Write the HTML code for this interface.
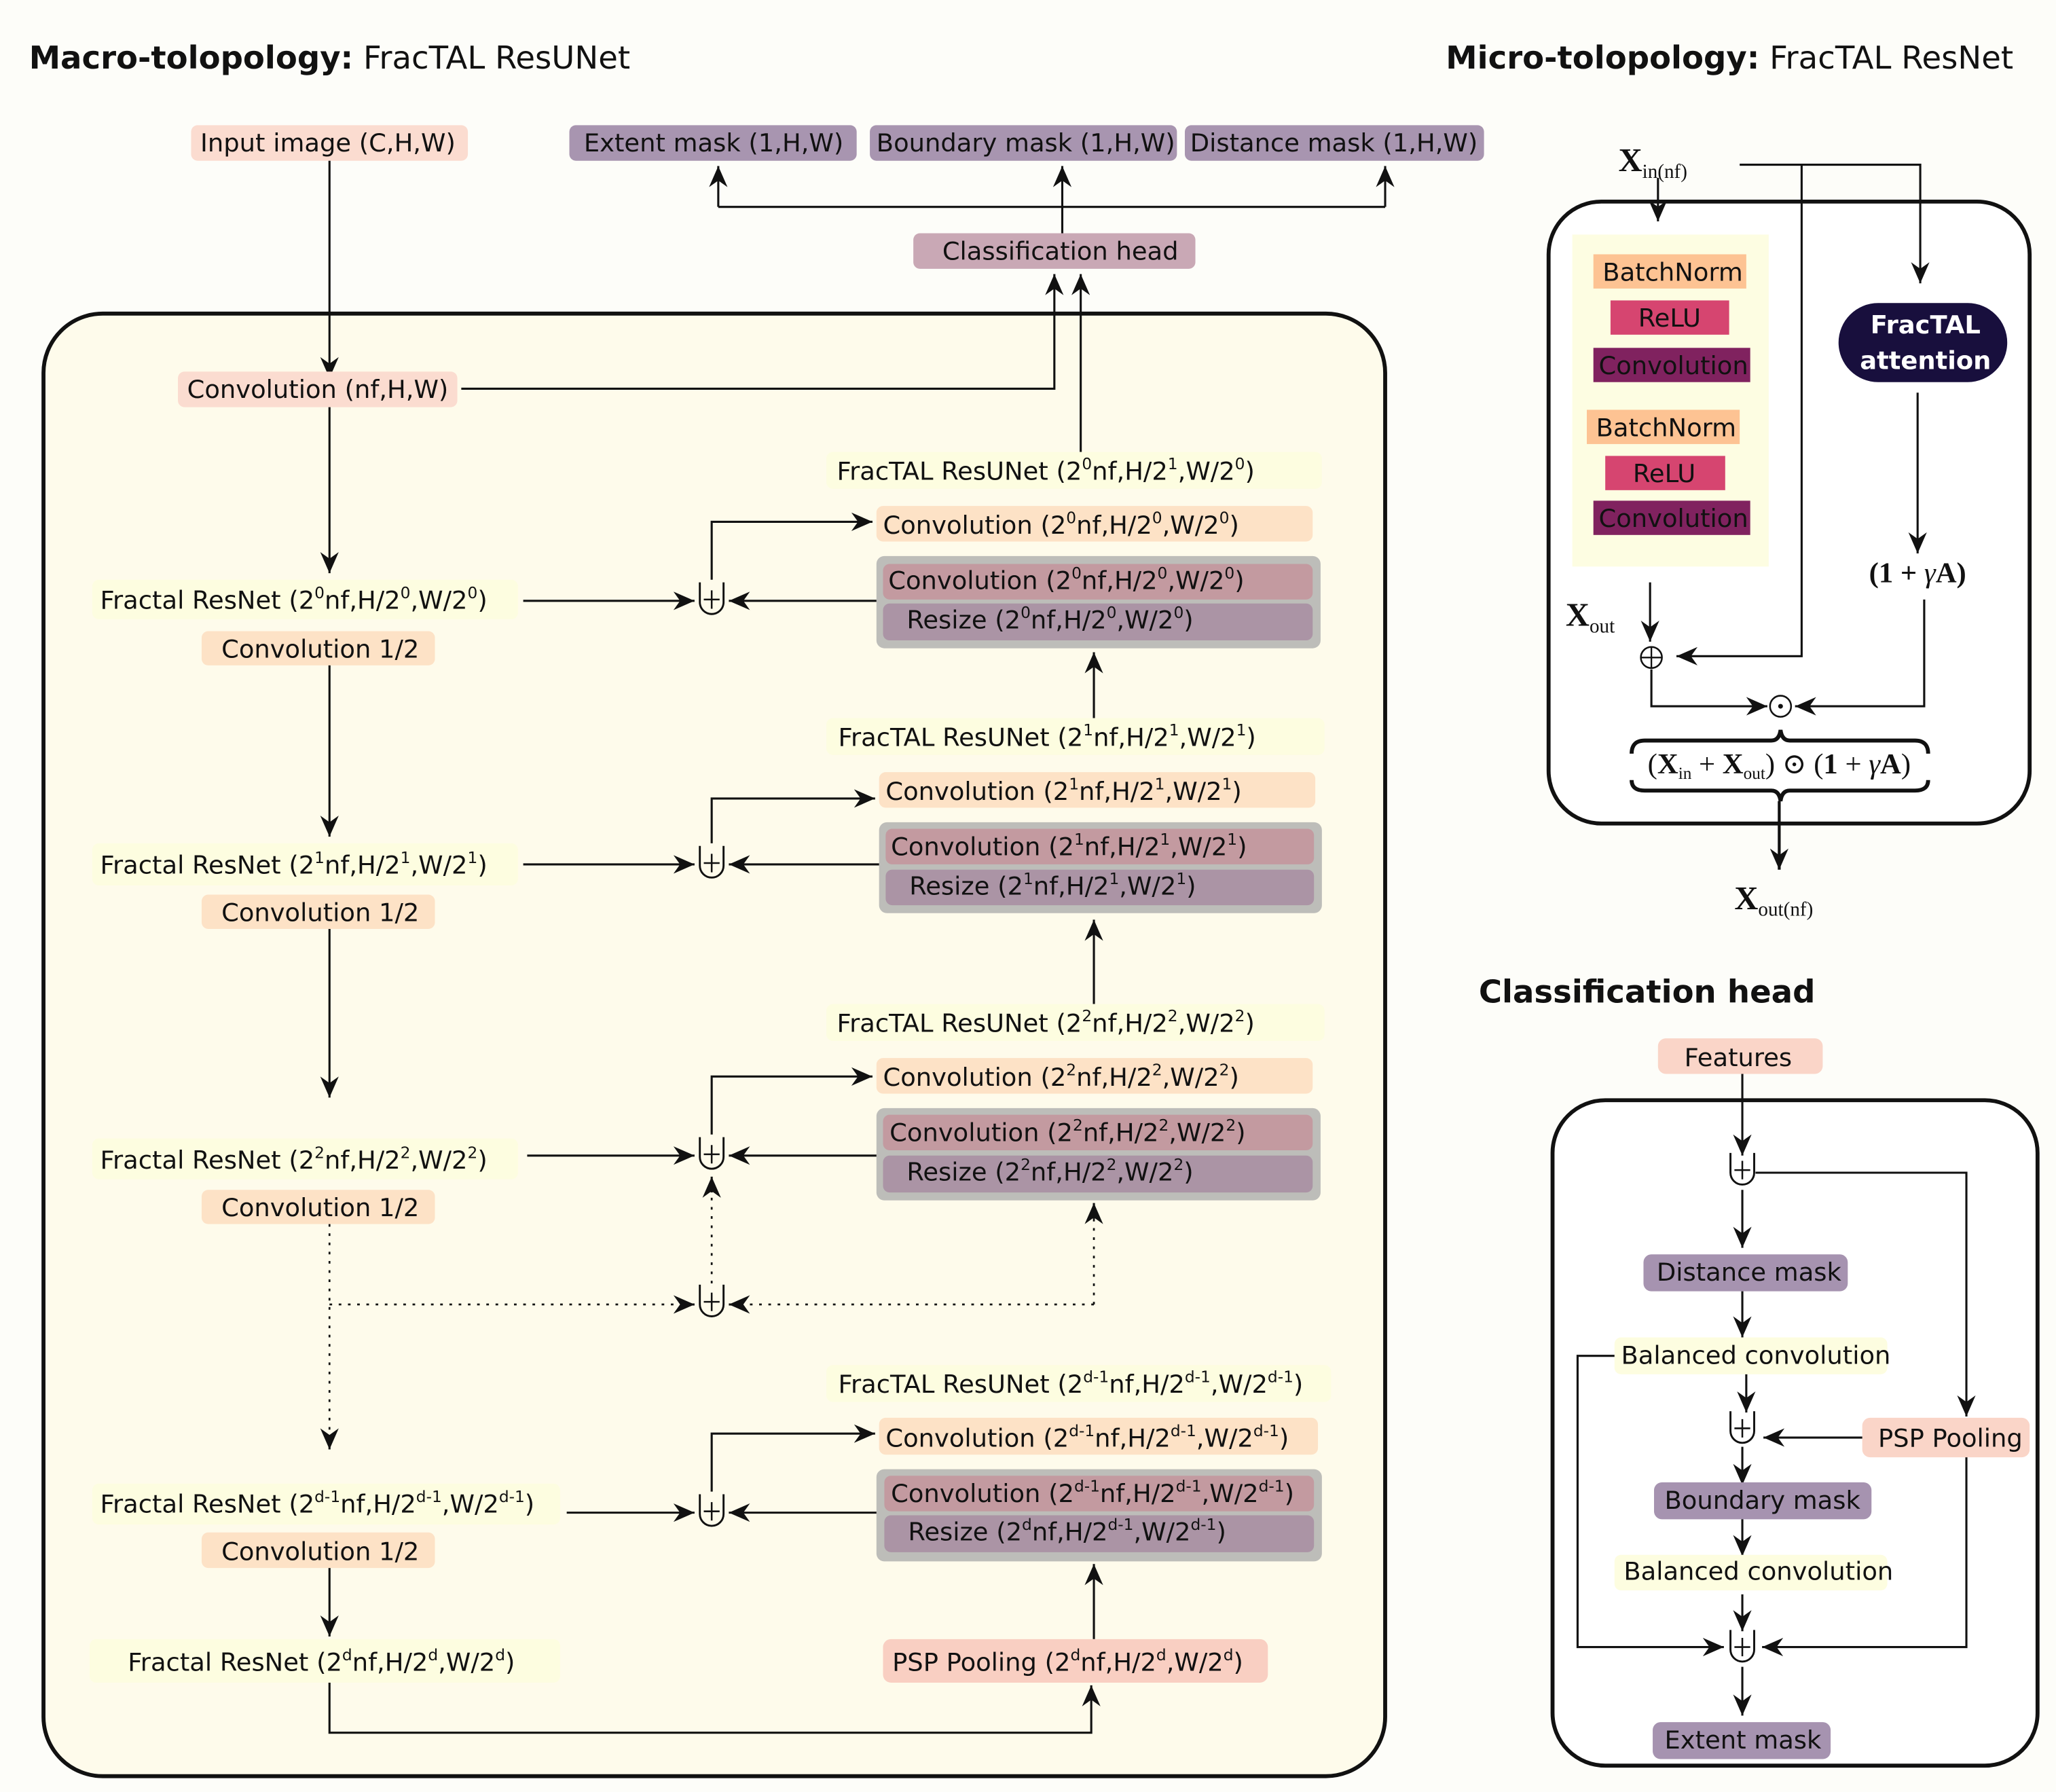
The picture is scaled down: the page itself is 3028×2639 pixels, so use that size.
<!DOCTYPE html>
<html><head><meta charset="utf-8"><style>
html,body{margin:0;padding:0;background:#fff;}
svg{display:block;}
text{font-family:"DejaVu Sans","Liberation Sans",sans-serif;font-size:19px;fill:#111;}
.t{font-size:24px;}
.b{font-weight:bold;}
.m{font-family:"Liberation Serif","DejaVu Serif",serif;font-size:22px;}
.ln{stroke:#111;stroke-width:1.6;fill:none;}
.dot{stroke:#111;stroke-width:1.4;fill:none;stroke-dasharray:2 5;}
</style></head><body>
<svg width="3028" height="2639" viewBox="0 0 1560 1360" preserveAspectRatio="none" xmlns="http://www.w3.org/2000/svg">
<defs>
<marker id="a" markerUnits="userSpaceOnUse" markerWidth="18" markerHeight="14" refX="16" refY="7" orient="auto">
<path d="M0,0 L16,7 L0,14 L5,7 z" fill="#111"/></marker>
<g id="j"><path d="M-9,-13 V2 A9,9 0 0 0 9,2 V-13" fill="none" stroke="#111" stroke-width="1.5"/><path d="M-6,0 H6 M0,-7 V7" stroke="#111" stroke-width="1.3"/></g>
</defs>
<rect x="0" y="0" width="1560" height="1360" fill="#fdfdf9"/>
<text x="22" y="52" class="t"><tspan class="b">Macro-tolopology:</tspan> FracTAL ResUNet</text>
<text x="1097" y="52" class="t"><tspan class="b">Micro-tolopology:</tspan> FracTAL ResNet</text>

<!-- top -->
<rect x="145" y="95" width="210" height="27" rx="5" fill="#fbdcd0"/><text x="152" y="115">Input image (C,H,W)</text>
<rect x="432" y="95" width="218" height="27" rx="5" fill="#a895b0"/><text x="443" y="115">Extent mask (1,H,W)</text>
<rect x="660" y="95" width="233" height="27" rx="5" fill="#a895b0"/><text x="665" y="115">Boundary mask (1,H,W)</text>
<rect x="899" y="95" width="227" height="27" rx="5" fill="#a895b0"/><text x="903" y="115">Distance mask (1,H,W)</text>
<rect x="693" y="177" width="214" height="27" rx="5" fill="#c9a8b5"/><text x="715" y="197">Classification head</text>
<path class="ln" d="M806,177 V157 M545,157 H1051" />
<path class="ln" d="M545,157 V126" marker-end="url(#a)"/>
<path class="ln" d="M806,157 V126" marker-end="url(#a)"/>
<path class="ln" d="M1051,157 V126" marker-end="url(#a)"/>

<rect x="33" y="238" width="1018" height="1110" rx="45" fill="#fefbeb" stroke="#111" stroke-width="3"/>
<path class="ln" d="M250,122 V287" marker-end="url(#a)"/>

<rect x="135" y="282" width="212" height="27" rx="5" fill="#fbdcd0"/><text x="142" y="302">Convolution (nf,H,W)</text>
<path class="ln" d="M350,295 H800 V208" marker-end="url(#a)"/>
<path class="ln" d="M820,343 V208" marker-end="url(#a)"/>
<path class="ln" d="M250,309 V435" marker-end="url(#a)"/>

<!-- level 0 -->
<rect x="627" y="343" width="376" height="28" rx="5" fill="#fdfde0"/><text x="635" y="364">FracTAL ResUNet (2<tspan dy="-8" font-size="12">0</tspan><tspan dy="8">nf,H/2</tspan><tspan dy="-8" font-size="12">1</tspan><tspan dy="8">,W/2</tspan><tspan dy="-8" font-size="12">0</tspan><tspan dy="8">)</tspan></text>
<rect x="665" y="384" width="331" height="27" rx="5" fill="#fde2c6"/><text x="670" y="405">Convolution (2<tspan dy="-8" font-size="12">0</tspan><tspan dy="8">nf,H/2</tspan><tspan dy="-8" font-size="12">0</tspan><tspan dy="8">,W/2</tspan><tspan dy="-8" font-size="12">0</tspan><tspan dy="8">)</tspan></text>
<rect x="665" y="422" width="337" height="70" rx="6" fill="#bdbdb9"/>
<rect x="670" y="428" width="326" height="27" rx="5" fill="#c39aa0"/><text x="674" y="447">Convolution (2<tspan dy="-8" font-size="12">0</tspan><tspan dy="8">nf,H/2</tspan><tspan dy="-8" font-size="12">0</tspan><tspan dy="8">,W/2</tspan><tspan dy="-8" font-size="12">0</tspan><tspan dy="8">)</tspan></text>
<rect x="670" y="458" width="326" height="28" rx="5" fill="#ab94a5"/><text x="688" y="477">Resize (2<tspan dy="-8" font-size="12">0</tspan><tspan dy="8">nf,H/2</tspan><tspan dy="-8" font-size="12">0</tspan><tspan dy="8">,W/2</tspan><tspan dy="-8" font-size="12">0</tspan><tspan dy="8">)</tspan></text>
<rect x="70" y="440" width="323" height="30" rx="5" fill="#fdfde0"/><text x="76" y="462">Fractal ResNet (2<tspan dy="-8" font-size="12">0</tspan><tspan dy="8">nf,H/2</tspan><tspan dy="-8" font-size="12">0</tspan><tspan dy="8">,W/2</tspan><tspan dy="-8" font-size="12">0</tspan><tspan dy="8">)</tspan></text>
<rect x="153" y="479" width="177" height="26" rx="5" fill="#fde2c6"/><text x="168" y="499">Convolution 1/2</text>
<use href="#j" x="540" y="455"/>
<path class="ln" d="M397,456 H527" marker-end="url(#a)"/>
<path class="ln" d="M665,456 H553" marker-end="url(#a)"/>
<path class="ln" d="M540,440 V396 H662" marker-end="url(#a)"/>
<path class="ln" d="M830,545 V495" marker-end="url(#a)"/>
<path class="ln" d="M250,505 V635" marker-end="url(#a)"/>

<!-- level 1 -->
<rect x="627" y="545" width="378" height="28" rx="5" fill="#fdfde0"/><text x="636" y="566">FracTAL ResUNet (2<tspan dy="-8" font-size="12">1</tspan><tspan dy="8">nf,H/2</tspan><tspan dy="-8" font-size="12">1</tspan><tspan dy="8">,W/2</tspan><tspan dy="-8" font-size="12">1</tspan><tspan dy="8">)</tspan></text>
<rect x="667" y="586" width="331" height="27" rx="5" fill="#fde2c6"/><text x="672" y="607">Convolution (2<tspan dy="-8" font-size="12">1</tspan><tspan dy="8">nf,H/2</tspan><tspan dy="-8" font-size="12">1</tspan><tspan dy="8">,W/2</tspan><tspan dy="-8" font-size="12">1</tspan><tspan dy="8">)</tspan></text>
<rect x="667" y="624" width="336" height="69" rx="6" fill="#bdbdb9"/>
<rect x="672" y="629" width="325" height="27" rx="5" fill="#c39aa0"/><text x="676" y="649">Convolution (2<tspan dy="-8" font-size="12">1</tspan><tspan dy="8">nf,H/2</tspan><tspan dy="-8" font-size="12">1</tspan><tspan dy="8">,W/2</tspan><tspan dy="-8" font-size="12">1</tspan><tspan dy="8">)</tspan></text>
<rect x="672" y="660" width="325" height="27" rx="5" fill="#ab94a5"/><text x="690" y="679">Resize (2<tspan dy="-8" font-size="12">1</tspan><tspan dy="8">nf,H/2</tspan><tspan dy="-8" font-size="12">1</tspan><tspan dy="8">,W/2</tspan><tspan dy="-8" font-size="12">1</tspan><tspan dy="8">)</tspan></text>
<rect x="70" y="640" width="323" height="32" rx="5" fill="#fdfde0"/><text x="76" y="663">Fractal ResNet (2<tspan dy="-8" font-size="12">1</tspan><tspan dy="8">nf,H/2</tspan><tspan dy="-8" font-size="12">1</tspan><tspan dy="8">,W/2</tspan><tspan dy="-8" font-size="12">1</tspan><tspan dy="8">)</tspan></text>
<rect x="153" y="679" width="177" height="26" rx="5" fill="#fde2c6"/><text x="168" y="699">Convolution 1/2</text>
<use href="#j" x="540" y="655"/>
<path class="ln" d="M397,656 H527" marker-end="url(#a)"/>
<path class="ln" d="M667,656 H553" marker-end="url(#a)"/>
<path class="ln" d="M540,640 V606 H664" marker-end="url(#a)"/>
<path class="ln" d="M830,762 V698" marker-end="url(#a)"/>
<path class="ln" d="M250,705 V833" marker-end="url(#a)"/>

<!-- level 2 -->
<rect x="627" y="762" width="378" height="28" rx="5" fill="#fdfde0"/><text x="635" y="783">FracTAL ResUNet (2<tspan dy="-8" font-size="12">2</tspan><tspan dy="8">nf,H/2</tspan><tspan dy="-8" font-size="12">2</tspan><tspan dy="8">,W/2</tspan><tspan dy="-8" font-size="12">2</tspan><tspan dy="8">)</tspan></text>
<rect x="665" y="803" width="331" height="27" rx="5" fill="#fde2c6"/><text x="670" y="824">Convolution (2<tspan dy="-8" font-size="12">2</tspan><tspan dy="8">nf,H/2</tspan><tspan dy="-8" font-size="12">2</tspan><tspan dy="8">,W/2</tspan><tspan dy="-8" font-size="12">2</tspan><tspan dy="8">)</tspan></text>
<rect x="665" y="841" width="337" height="70" rx="6" fill="#bdbdb9"/>
<rect x="670" y="846" width="326" height="27" rx="5" fill="#c39aa0"/><text x="675" y="866">Convolution (2<tspan dy="-8" font-size="12">2</tspan><tspan dy="8">nf,H/2</tspan><tspan dy="-8" font-size="12">2</tspan><tspan dy="8">,W/2</tspan><tspan dy="-8" font-size="12">2</tspan><tspan dy="8">)</tspan></text>
<rect x="670" y="877" width="326" height="28" rx="5" fill="#ab94a5"/><text x="688" y="896">Resize (2<tspan dy="-8" font-size="12">2</tspan><tspan dy="8">nf,H/2</tspan><tspan dy="-8" font-size="12">2</tspan><tspan dy="8">,W/2</tspan><tspan dy="-8" font-size="12">2</tspan><tspan dy="8">)</tspan></text>
<rect x="70" y="864" width="323" height="31" rx="5" fill="#fdfde0"/><text x="76" y="887">Fractal ResNet (2<tspan dy="-8" font-size="12">2</tspan><tspan dy="8">nf,H/2</tspan><tspan dy="-8" font-size="12">2</tspan><tspan dy="8">,W/2</tspan><tspan dy="-8" font-size="12">2</tspan><tspan dy="8">)</tspan></text>
<rect x="153" y="903" width="177" height="26" rx="5" fill="#fde2c6"/><text x="168" y="923">Convolution 1/2</text>
<use href="#j" x="540" y="876"/>
<path class="ln" d="M400,877 H527" marker-end="url(#a)"/>
<path class="ln" d="M665,877 H553" marker-end="url(#a)"/>
<path class="ln" d="M540,861 V817 H662" marker-end="url(#a)"/>

<!-- dotted -->
<use href="#j" x="540" y="988"/>
<path class="dot" d="M250,929 V1098"/><path class="ln" d="M250,1092 V1100" marker-end="url(#a)"/>
<path class="dot" d="M250,990 H525"/><path class="ln" d="M520,990 H527" marker-end="url(#a)"/>
<path class="dot" d="M830,990 H560 M830,990 V925"/>
<path class="ln" d="M560,990 H553" marker-end="url(#a)"/>
<path class="ln" d="M830,925 V913" marker-end="url(#a)"/>
<path class="dot" d="M540,974 V905"/><path class="ln" d="M540,905 V893" marker-end="url(#a)"/>

<!-- level d-1 -->
<rect x="627" y="1036" width="383" height="28" rx="5" fill="#fdfde0"/><text x="636" y="1057">FracTAL ResUNet (2<tspan dy="-8" font-size="12">d-1</tspan><tspan dy="8">nf,H/2</tspan><tspan dy="-8" font-size="12">d-1</tspan><tspan dy="8">,W/2</tspan><tspan dy="-8" font-size="12">d-1</tspan><tspan dy="8">)</tspan></text>
<rect x="667" y="1076" width="333" height="28" rx="5" fill="#fde2c6"/><text x="672" y="1098">Convolution (2<tspan dy="-8" font-size="12">d-1</tspan><tspan dy="8">nf,H/2</tspan><tspan dy="-8" font-size="12">d-1</tspan><tspan dy="8">,W/2</tspan><tspan dy="-8" font-size="12">d-1</tspan><tspan dy="8">)</tspan></text>
<rect x="665" y="1115" width="338" height="70" rx="6" fill="#bdbdb9"/>
<rect x="671" y="1120" width="326" height="27" rx="5" fill="#c39aa0"/><text x="676" y="1140">Convolution (2<tspan dy="-8" font-size="12">d-1</tspan><tspan dy="8">nf,H/2</tspan><tspan dy="-8" font-size="12">d-1</tspan><tspan dy="8">,W/2</tspan><tspan dy="-8" font-size="12">d-1</tspan><tspan dy="8">)</tspan></text>
<rect x="671" y="1150" width="326" height="28" rx="5" fill="#ab94a5"/><text x="689" y="1169">Resize (2<tspan dy="-8" font-size="12">d</tspan><tspan dy="8">nf,H/2</tspan><tspan dy="-8" font-size="12">d-1</tspan><tspan dy="8">,W/2</tspan><tspan dy="-8" font-size="12">d-1</tspan><tspan dy="8">)</tspan></text>
<rect x="70" y="1126" width="355" height="31" rx="5" fill="#fdfde0"/><text x="76" y="1148">Fractal ResNet (2<tspan dy="-8" font-size="12">d-1</tspan><tspan dy="8">nf,H/2</tspan><tspan dy="-8" font-size="12">d-1</tspan><tspan dy="8">,W/2</tspan><tspan dy="-8" font-size="12">d-1</tspan><tspan dy="8">)</tspan></text>
<rect x="153" y="1163" width="177" height="27" rx="5" fill="#fde2c6"/><text x="168" y="1184">Convolution 1/2</text>
<use href="#j" x="540" y="1147"/>
<path class="ln" d="M430,1148 H527" marker-end="url(#a)"/>
<path class="ln" d="M665,1148 H553" marker-end="url(#a)"/>
<path class="ln" d="M540,1132 V1088 H664" marker-end="url(#a)"/>
<path class="ln" d="M250,1190 V1242" marker-end="url(#a)"/>
<path class="ln" d="M830,1244 V1187" marker-end="url(#a)"/>

<rect x="68" y="1244" width="357" height="33" rx="5" fill="#fdfde0"/><text x="97" y="1268">Fractal ResNet (2<tspan dy="-8" font-size="12">d</tspan><tspan dy="8">nf,H/2</tspan><tspan dy="-8" font-size="12">d</tspan><tspan dy="8">,W/2</tspan><tspan dy="-8" font-size="12">d</tspan><tspan dy="8">)</tspan></text>
<rect x="670" y="1244" width="292" height="33" rx="6" fill="#f9cfc2"/><text x="677" y="1268">PSP Pooling (2<tspan dy="-8" font-size="12">d</tspan><tspan dy="8">nf,H/2</tspan><tspan dy="-8" font-size="12">d</tspan><tspan dy="8">,W/2</tspan><tspan dy="-8" font-size="12">d</tspan><tspan dy="8">)</tspan></text>
<path class="ln" d="M250,1277 V1315 H828 V1279" marker-end="url(#a)"/>

<!-- micro -->
<text x="1228" y="130" class="m" style="font-size:25px"><tspan class="b">X</tspan><tspan font-size="15" dy="5">in(nf)</tspan></text>
<rect x="1175" y="153" width="365" height="472" rx="40" fill="#fff" stroke="#111" stroke-width="3"/>
<path class="ln" d="M1320,125 H1457 V215" marker-end="url(#a)"/>
<path class="ln" d="M1367,125 V498 H1272" marker-end="url(#a)"/>
<path class="ln" d="M1258,135 V168" marker-end="url(#a)"/>
<rect x="1193" y="178" width="149" height="252" fill="#fdfde2"/>
<rect x="1209" y="193" width="116" height="26" fill="#fdc393"/><text x="1216" y="213">BatchNorm</text>
<rect x="1222" y="228" width="90" height="26" fill="#d64570"/><text x="1243" y="248">ReLU</text>
<rect x="1209" y="264" width="119" height="26" fill="#80225f"/><text x="1213" y="284">Convolution</text>
<rect x="1204" y="311" width="116" height="26" fill="#fdc393"/><text x="1211" y="331">BatchNorm</text>
<rect x="1218" y="346" width="91" height="26" fill="#d64570"/><text x="1239" y="366">ReLU</text>
<rect x="1209" y="380" width="119" height="26" fill="#80225f"/><text x="1213" y="400">Convolution</text>
<rect x="1395" y="230" width="128" height="60" rx="30" fill="#180f3d"/>
<text x="1461" y="253" text-anchor="middle" class="b" style="fill:#fff">FracTAL</text>
<text x="1461" y="280" text-anchor="middle" class="b" style="fill:#fff">attention</text>
<path class="ln" d="M1455,298 V420" marker-end="url(#a)"/>
<text x="1455" y="442" class="m b" text-anchor="middle">(1 + <tspan font-style="italic" font-weight="normal">γ</tspan>A)</text>
<text x="1188" y="475" class="m" style="font-size:25px"><tspan class="b">X</tspan><tspan font-size="15" dy="5">out</tspan></text>
<path class="ln" d="M1252,442 V487" marker-end="url(#a)"/>
<circle cx="1253" cy="499" r="8" fill="none" stroke="#111" stroke-width="1.3"/><path d="M1245,499 H1261 M1253,491 V507" stroke="#111" stroke-width="1.2"/>
<path class="ln" d="M1253,508 V536 H1341" marker-end="url(#a)"/>
<circle cx="1351" cy="536" r="8" fill="none" stroke="#111" stroke-width="1.3"/><circle cx="1351" cy="536" r="1.8" fill="#111"/>
<path class="ln" d="M1460,455 V536 H1362" marker-end="url(#a)"/>
<path d="M1238,572 Q1238,562 1248,562 H1344 Q1350,562 1351,554 Q1352,562 1358,562 H1453 Q1463,562 1463,572" fill="none" stroke="#111" stroke-width="3"/>
<path d="M1238,592 Q1238,600 1248,600 H1344 Q1350,600 1351,608 Q1352,600 1358,600 H1453 Q1463,600 1463,592" fill="none" stroke="#111" stroke-width="3"/>
<text x="1350" y="587" class="m" text-anchor="middle">(<tspan class="b">X</tspan><tspan font-size="13" dy="4">in</tspan><tspan dy="-4"> + </tspan><tspan class="b">X</tspan><tspan font-size="13" dy="4">out</tspan><tspan dy="-4">) ⊙ (</tspan><tspan class="b">1</tspan> + <tspan font-style="italic">γ</tspan><tspan class="b">A</tspan>)</text>
<path class="ln" d="M1350,608 V660" marker-end="url(#a)" style="stroke-width:2.2"/>
<text x="1316" y="690" class="m" style="font-size:25px"><tspan class="b">X</tspan><tspan font-size="15" dy="5">out(nf)</tspan></text>

<!-- classification head -->
<text x="1122" y="761" class="t b">Classification head</text>
<rect x="1258" y="788" width="125" height="27" rx="6" fill="#fad5c8"/><text x="1278" y="809">Features</text>
<rect x="1178" y="835" width="368" height="505" rx="40" fill="#fff" stroke="#111" stroke-width="3"/>
<path class="ln" d="M1322,815 V877" marker-end="url(#a)"/>
<use href="#j" x="1322" y="888"/>
<path class="ln" d="M1332,890 H1492 V1075" marker-end="url(#a)"/>
<path class="ln" d="M1322,903 V947" marker-end="url(#a)"/>
<rect x="1247" y="952" width="155" height="28" rx="6" fill="#a693b0"/><text x="1257" y="972">Distance mask</text>
<path class="ln" d="M1322,980 V1015" marker-end="url(#a)"/>
<rect x="1225" y="1015" width="207" height="28" rx="5" fill="#fdfde0"/><text x="1230" y="1035">Balanced convolution</text>
<path class="ln" d="M1325,1043 V1072" marker-end="url(#a)"/>
<use href="#j" x="1322" y="1084"/>
<rect x="1413" y="1076" width="127" height="30" rx="6" fill="#fad5c8"/><text x="1425" y="1098">PSP Pooling</text>
<path class="ln" d="M1413,1091 H1338" marker-end="url(#a)"/>
<path class="ln" d="M1225,1029 H1197 V1250 H1308" marker-end="url(#a)"/>
<path class="ln" d="M1322,1098 V1127" marker-end="url(#a)"/>
<rect x="1255" y="1125" width="165" height="28" rx="6" fill="#a693b0"/><text x="1263" y="1145">Boundary mask</text>
<path class="ln" d="M1322,1153 V1181" marker-end="url(#a)"/>
<rect x="1225" y="1180" width="207" height="27" rx="5" fill="#fdfde0"/><text x="1232" y="1199">Balanced convolution</text>
<path class="ln" d="M1322,1210 V1238" marker-end="url(#a)"/>
<use href="#j" x="1322" y="1250"/>
<path class="ln" d="M1492,1106 V1250 H1337" marker-end="url(#a)"/>
<path class="ln" d="M1322,1265 V1302" marker-end="url(#a)"/>
<rect x="1254" y="1307" width="135" height="28" rx="6" fill="#a693b0"/><text x="1263" y="1327">Extent mask</text>
</svg>
</body></html>
